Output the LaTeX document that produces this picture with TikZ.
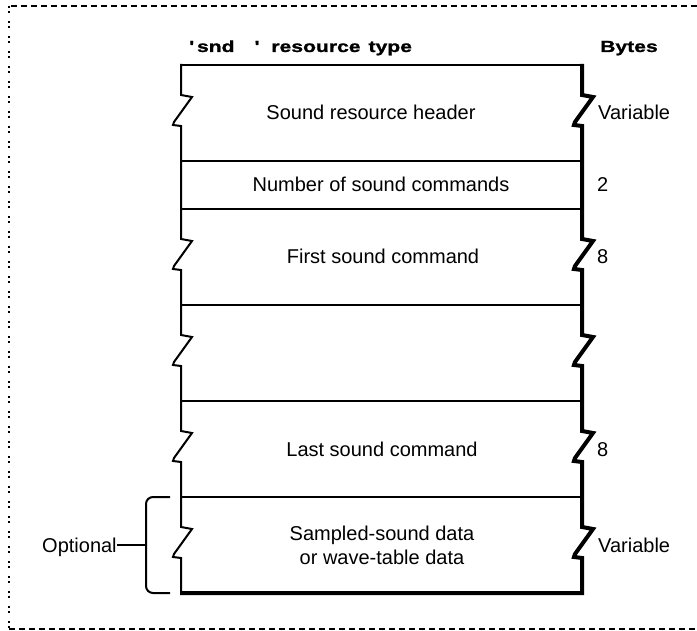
\documentclass[tikz,border=0pt]{standalone}
\usepackage{fontspec}
\setmainfont{Liberation Sans}
\newfontfamily\hdrfont[FakeStretch=1.32,FakeBold=1.2]{Liberation Sans Bold}
\newcommand{\zig}[2]{-- (#1,#2-18) -- ++(11,2) -- ++(-18,25) -- ++(-1,3) -- ++(8,1)}
\tikzset{
  lbl/.style={font=\fontsize{20}{24}\selectfont, inner sep=0pt},
  hdr/.style={font=\hdrfont\fontsize{16}{18}\selectfont, inner sep=0pt},
  rule/.style={line width=2pt, line cap=rect},
  heavy/.style={line width=4pt},
  framedash/.style={line width=2pt, dash pattern=on 6pt off 4pt},
  framedot/.style={line width=2pt, dash pattern=on 2pt off 3pt on 2pt off 8pt}
}
\begin{document}
\begin{tikzpicture}[x=1pt,y=-1pt]
\useasboundingbox (0,0) rectangle (697,631);
% outer frame
\draw[framedash] (697,6) -- (9,6);
\draw[framedot] (9,6) -- (9,629);
\draw[framedash] (9,629) -- (697,629);
% header texts
\node[hdr, anchor=base west] (hdr) at (189,52) {\textquotesingle\hspace{4pt}snd\hspace{20pt}\textquotesingle\hspace{13pt}resource\hspace{8pt}type};
\node[hdr, anchor=base west] (bytes) at (600,52) {Bytes};
% box: top and dividers
\draw[rule] (181,65) -- (582,65);
\foreach \yy in {161,209,305,401,497} \draw[rule] (181,\yy) -- (582,\yy);
% left edge with breaks
\draw[rule] (181,65) \zig{181}{113} \zig{181}{257} \zig{181}{353} \zig{181}{449} \zig{181}{545} -- (181,593);
% right edge with breaks and bottom (shadowed)
\draw[heavy] (582,64) \zig{582}{113} \zig{582}{257} \zig{582}{353} \zig{582}{449} \zig{582}{545} -- (582,593) -- (180,593);
% row labels
\node[lbl, anchor=base] (r1) at (371,120) {Sound resource header};
\node[lbl, anchor=base] (r2) at (381,192) {Number of sound commands};
\node[lbl, anchor=base] (r3) at (383,264) {First sound command};
\node[lbl, anchor=base] (r5) at (382,456) {Last sound command};
\node[lbl, align=center] (r6) at (382,545) {Sampled-sound data\\or wave-table data};
% byte sizes
\node[lbl, anchor=base west] (b1) at (598,120) {Variable};
\node[lbl, anchor=base west] (b2) at (597,192) {2};
\node[lbl, anchor=base west] (b3) at (597,264) {8};
\node[lbl, anchor=base west] (b5) at (597,456) {8};
\node[lbl, anchor=base west] (b6) at (598,552) {Variable};
% optional bracket
\node[lbl, anchor=base west] (opt) at (42,552) {Optional};
\coordinate (bm) at (146,545);
\draw[rule, line cap=butt, rounded corners=7pt] (170,497) -- (146,497) -- (146,593) -- (170,593);
\draw[rule, line cap=butt] (bm) -- (bm -| opt.east);
\end{tikzpicture}
\end{document}
